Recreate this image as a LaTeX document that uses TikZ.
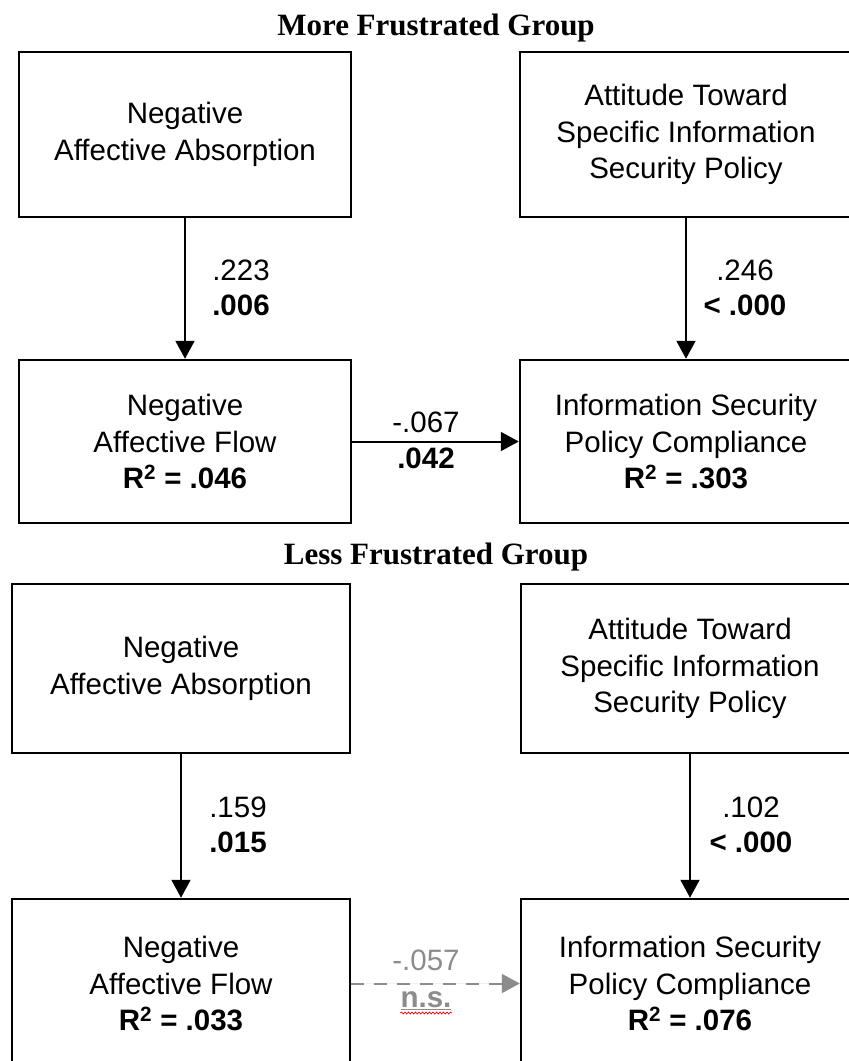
\documentclass[tikz,border=0pt]{standalone}
\usepackage{fontspec}
\setmainfont{Liberation Sans}
\newfontfamily\titlefont{Liberation Serif}
\usetikzlibrary{arrows.meta,decorations.pathmorphing}
\definecolor{nsgray}{RGB}{140,140,140}
\begin{document}
\begin{tikzpicture}[x=1pt,y=-1pt,
  box/.style={draw, line width=2.5pt, inner sep=0pt, align=center, font=\fontsize{29.5}{36.5}\selectfont},
  boxA/.style={box, minimum width=332pt, minimum height=165pt},
  boxB/.style={box, minimum width=338pt, minimum height=169pt},
  lab/.style={anchor=base, inner sep=0pt, font=\fontsize{29.5}{35}\selectfont},
  ttl/.style={anchor=base, inner sep=0pt, font=\titlefont\bfseries\fontsize{31}{36}\selectfont},
  arr/.style={line width=2pt, -{Triangle[width=19pt,length=18pt]}},
  nsarr/.style={arr, draw=nsgray, fill=nsgray, dash pattern=on 13pt off 10pt},
]
\fill[white] (0,0) rectangle (849,1061);
\useasboundingbox (0,0) rectangle (849,1061);

% ---------- More Frustrated Group ----------
\node[ttl] (t1) at (436,35) {More Frustrated Group};
\node[boxA] (nab1) at (185,134.5) {Negative\\Affective Absorption};
\node[boxA] (att1) at (686,134.5) {Attitude Toward\\Specific Information\\Security Policy};
\node[boxA, minimum height=163pt] (naf1) at (185,441.5) {Negative\\Affective Flow\\\textbf{R\textsuperscript{2} = .046}};
\node[boxA, minimum height=163pt] (isp1) at (686,441.5) {Information Security\\Policy Compliance\\\textbf{R\textsuperscript{2} = .303}};

\draw[arr] (nab1) -- (naf1);
\draw[arr] (att1) -- (isp1);
\draw[arr] (naf1) -- (isp1);

\node[lab] (c1a) at (241,280) {.223};
\node[lab] (c1b) at (241,315) {\textbf{.006}};
\node[lab] (c2a) at (745,280) {.246};
\node[lab] (c2b) at (745,315) {\textbf{< .000}};
\node[lab] (c3a) at (426,432) {-.067};
\node[lab] (c3b) at (426,468) {\textbf{.042}};

% ---------- Less Frustrated Group ----------
\node[ttl] (t2) at (436,564) {Less Frustrated Group};
\node[boxB] (nab2) at (181,668.5) {Negative\\Affective Absorption};
\node[boxB] (att2) at (690,668.5) {Attitude Toward\\Specific Information\\Security Policy};
\node[boxB] (naf2) at (181,983.5) {Negative\\Affective Flow\\\textbf{R\textsuperscript{2} = .033}};
\node[boxB] (isp2) at (690,983.5) {Information Security\\Policy Compliance\\\textbf{R\textsuperscript{2} = .076}};

\draw[arr] (nab2) -- (naf2);
\draw[arr] (att2) -- (isp2);
\draw[nsarr] (naf2) -- (isp2);

\node[lab] (d1a) at (238,817) {.159};
\node[lab] (d1b) at (238,852) {\textbf{.015}};
\node[lab] (d2a) at (751,817) {.102};
\node[lab] (d2b) at (751,852) {\textbf{< .000}};
\node[lab, text=nsgray] (d3a) at (426,970) {-.057};
\node[lab, text=nsgray] (ns) at (426,1007) {\textbf{\underline{n.s.}}};
\draw[red, line width=0.7pt, decorate, decoration={snake, amplitude=1pt, segment length=3.5pt}]
  ([yshift=-6pt]ns.base west) -- ([yshift=-6pt]ns.base east);
\end{tikzpicture}
\end{document}
